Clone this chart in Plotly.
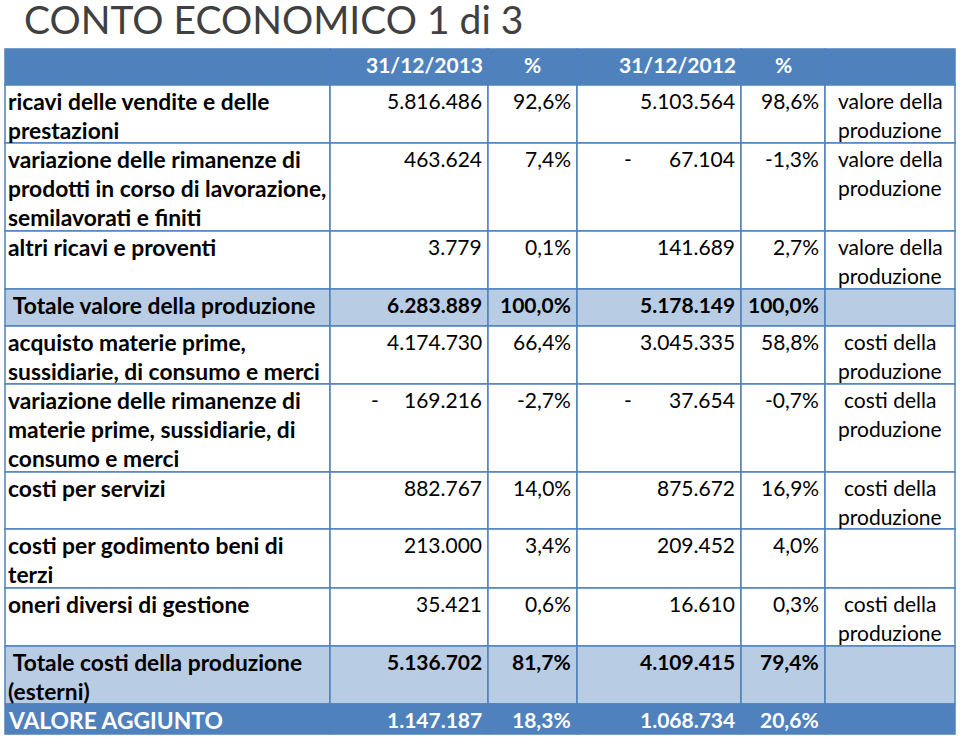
import plotly.graph_objects as go

# ---------------- data ----------------
title = "CONTO ECONOMICO 1 di 3"
headers = ["", "31/12/2013", "%", "31/12/2012", "%", ""]
labels = [
    "ricavi delle vendite e delle\nprestazioni",
    "variazione delle rimanenze di\nprodotti in corso di lavorazione,\nsemilavorati e finiti",
    "altri ricavi e proventi",
    " Totale valore della produzione",
    "acquisto materie prime,\nsussidiarie, di consumo e merci",
    "variazione delle rimanenze di\nmaterie prime, sussidiarie, di\nconsumo e merci",
    "costi per servizi",
    "costi per godimento beni di\nterzi",
    "oneri diversi di gestione",
    " Totale costi della produzione\n(esterni)",
    "VALORE AGGIUNTO",
]
v2013 = [5816486, 463624, 3779, 6283889, 4174730, -169216, 882767, 213000, 35421, 5136702, 1147187]
p2013 = [92.6, 7.4, 0.1, 100.0, 66.4, -2.7, 14.0, 3.4, 0.6, 81.7, 18.3]
v2012 = [5103564, -67104, 141689, 5178149, 3045335, -37654, 875672, 209452, 16610, 4109415, 1068734]
p2012 = [98.6, -1.3, 2.7, 100.0, 58.8, -0.7, 16.9, 4.0, 0.3, 79.4, 20.6]
notes = [
    "valore della\nproduzione", "valore della\nproduzione", "valore della\nproduzione", "",
    "costi della\nproduzione", "costi della\nproduzione", "costi della\nproduzione", "",
    "costi della\nproduzione", "", "",
]

# ---------------- layout / style ----------------
kinds = ["item", "item", "item", "total", "item", "item", "item", "item", "item", "total", "final"]
row_heights = [58, 88, 58, 37, 58, 88, 57, 59, 58, 58, 30]
header_h = 36
table_top = 49
col_edges = [5, 330, 488, 577, 741, 825, 955]
W, H = 960, 737
FONT = "Lato"
FS = 21
FS_LABEL = 22.8
PITCH = 29.3
FIRST = 15.5
BLUE = "#4F81BD"
LIGHT = "#B8CCE4"

def fmt_int(v):
    return f"{abs(v):,}".replace(",", ".")

def fmt_pct(p):
    return f"{p:.1f}".replace(".", ",") + "%"

shapes = []
annotations = []

def cell(x0, x1, y0, y1, fill):
    shapes.append(dict(type="rect", xref="x", yref="y", x0=x0, x1=x1, y0=y0, y1=y1,
                       fillcolor=fill, line=dict(color=BLUE, width=1.5), layer="below"))

def text(x, y, s, anchor, bold=False, color="black", size=FS):
    if bold:
        s = "<b>" + s + "</b>"
    annotations.append(dict(x=x, y=y, xref="x", yref="y", text=s, showarrow=False,
                            xanchor=anchor, yanchor="middle",
                            font=dict(family=FONT, size=size, color=color)))

# title
text(22, 18.5, title, "left", color="#404040", size=39)

# header
y0 = table_top
y1 = y0 + header_h
for c in range(6):
    cell(col_edges[c], col_edges[c + 1], y0, y1, BLUE)
for c, h in enumerate(headers):
    if not h:
        continue
    if h == "%":
        text((col_edges[c] + col_edges[c + 1]) / 2, y0 + FIRST, h, "center", True, "white")
    else:
        text(col_edges[c + 1] - 3, y0 + FIRST, h, "right", True, "white")

# body
y = y1
for r in range(len(labels)):
    h = row_heights[r]
    kind = kinds[r]
    fill = {"item": "white", "total": LIGHT, "final": BLUE}[kind]
    for c in range(6):
        cell(col_edges[c], col_edges[c + 1], y, y + h, fill)
    color = "white" if kind == "final" else "black"
    bold_nums = kind != "item"
    ty = y + FIRST
    # label
    for i, line in enumerate(labels[r].split("\n")):
        s = line.replace(" ", "\u00a0", 1) if line.startswith(" ") else line
        text(col_edges[0] + 1, ty + i * PITCH, s, "left", True, color, FS_LABEL)
    # values
    for c, (v, p) in zip((1, 3), ((v2013[r], p2013[r]), (v2012[r], p2012[r]))):
        right = col_edges[c + 1]
        text(right - 4, ty, fmt_int(v), "right", bold_nums, color)
        if v < 0:
            text(right - 113, ty, "-", "center", bold_nums, color)
        text(col_edges[c + 2] - 4, ty, fmt_pct(p), "right", bold_nums, color)
    # note
    if notes[r]:
        for i, line in enumerate(notes[r].split("\n")):
            text((col_edges[5] + col_edges[6]) / 2, ty + i * PITCH, line, "center", False, color)
    y += h

fig = go.Figure()
fig.update_layout(
    width=W, height=H,
    margin=dict(l=0, r=0, t=0, b=0),
    paper_bgcolor="white", plot_bgcolor="white",
    xaxis=dict(range=[0, W], visible=False, fixedrange=True),
    yaxis=dict(range=[H, 0], visible=False, fixedrange=True),
    shapes=shapes, annotations=annotations, showlegend=False,
)
fig.write_html(
    "out.html",
    config={"displayModeBar": False},
    post_script="document.body.style.margin='0';document.body.style.overflow='hidden';",
)
